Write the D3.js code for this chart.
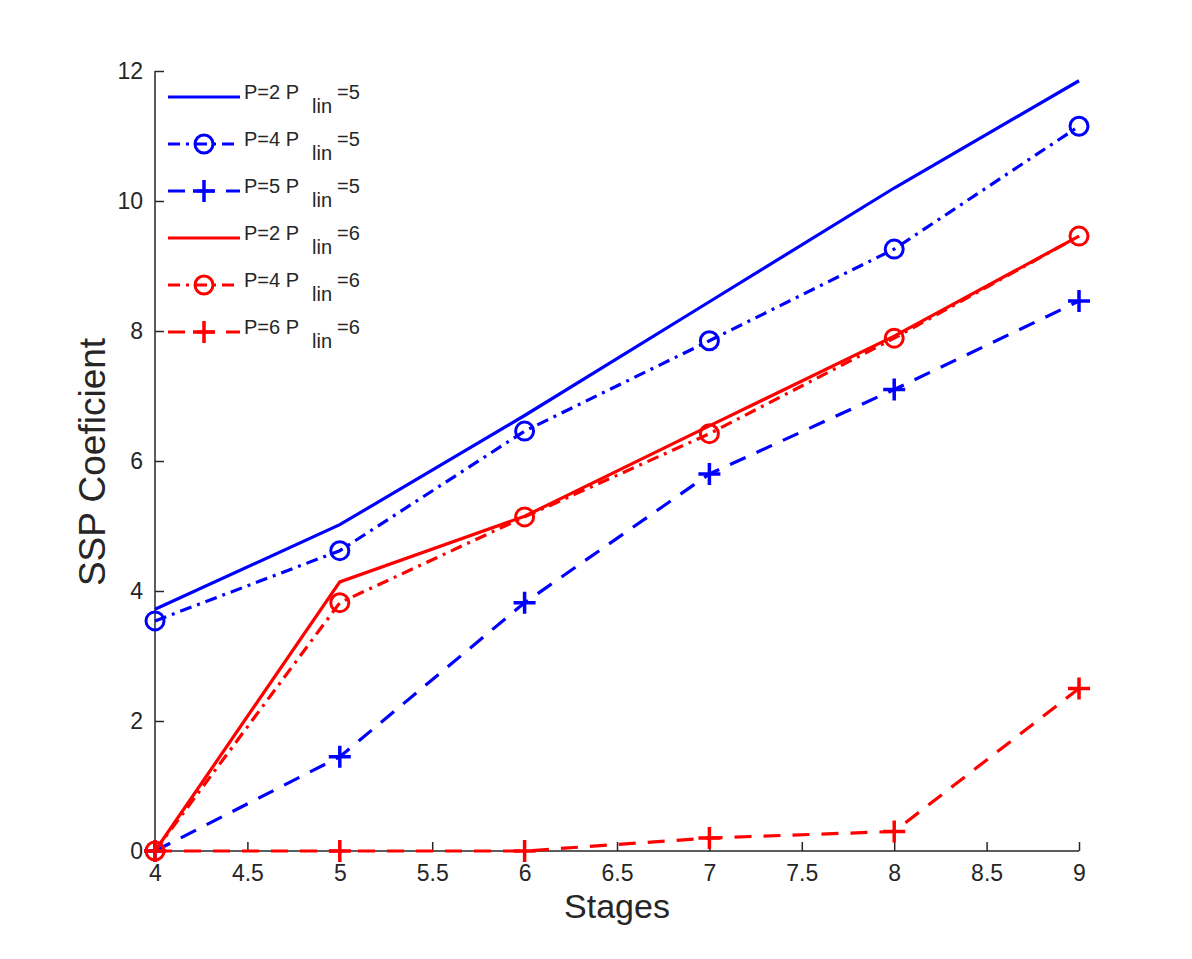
<!DOCTYPE html>
<html>
<head>
<meta charset="utf-8">
<script src="https://cdn.jsdelivr.net/npm/d3@7"></script>
<style>
  body { margin: 0; background: #fff; }
  text { font-family: "Liberation Sans", Arial, sans-serif; fill: #262626; }
</style>
</head>
<body>
<svg width="1192" height="959"></svg>
<script>
// stages on the x axis
const stages = [4, 5, 6, 7, 8, 9];

// SSP coefficient per series
const p2lin5 = [3.72, 5.02, 6.7, 8.45, 10.2, 11.85];
const p4lin5 = [3.54, 4.62, 6.46, 7.85, 9.26, 11.15];
const p5lin5 = [0, 1.45, 3.82, 5.8, 7.1, 8.46];
const p2lin6 = [0, 4.14, 5.15, 6.54, 7.92, 9.46];
const p4lin6 = [0, 3.82, 5.14, 6.42, 7.89, 9.46];
const p6lin6 = [0, 0, 0, 0.2, 0.3, 2.5];

const xTicks = [4, 4.5, 5, 5.5, 6, 6.5, 7, 7.5, 8, 8.5, 9];
const yTicks = [0, 2, 4, 6, 8, 10, 12];

const series = [
  { p: 2, lin: 5, values: p2lin5, color: "#0000ff", dash: null, marker: null },
  { p: 4, lin: 5, values: p4lin5, color: "#0000ff", dash: "12,6,3,6", marker: "o" },
  { p: 5, lin: 5, values: p5lin5, color: "#0000ff", dash: "17,12", marker: "+" },
  { p: 2, lin: 6, values: p2lin6, color: "#ff0000", dash: null, marker: null },
  { p: 4, lin: 6, values: p4lin6, color: "#ff0000", dash: "12,6,3,6", marker: "o" },
  { p: 6, lin: 6, values: p6lin6, color: "#ff0000", dash: "17,12", marker: "+" }
];

const svg = d3.select("svg");
const margin = { left: 155, right: 113, top: 71, bottom: 108 };
const W = 1192, H = 959;

const x = d3.scaleLinear().domain([4, 9]).range([margin.left, W - margin.right]);
const y = d3.scaleLinear().domain([0, 12]).range([H - margin.bottom, margin.top]);

// axes (inward ticks, no box)
const xAxis = svg.append("g")
  .attr("transform", `translate(0,${y(0)})`)
  .call(d3.axisBottom(x).tickValues(xTicks).tickSize(-9).tickPadding(14)
    .tickFormat(d3.format("")));
const yAxis = svg.append("g")
  .attr("transform", `translate(${x(4)},0)`)
  .call(d3.axisLeft(y).tickValues(yTicks).tickSize(-9).tickPadding(12));

[xAxis, yAxis].forEach(a => {
  a.attr("font-size", 23).attr("font-family", null);
  a.select(".domain").attr("stroke", "#262626").attr("stroke-width", 1.5);
  a.selectAll(".tick line").attr("stroke", "#262626").attr("stroke-width", 1.5);
  a.selectAll(".tick text").attr("fill", "#262626");
});
xAxis.select(".domain").attr("d", `M${x(4)},0H${x(9)}`);
yAxis.select(".domain").attr("d", `M0,${y(0)}V${y(12)}`);

svg.append("text")
  .attr("x", (x(4) + x(9)) / 2).attr("y", 918)
  .attr("text-anchor", "middle").attr("font-size", 34)
  .text("Stages");
svg.append("text")
  .attr("transform", `translate(105,${(y(0) + y(12)) / 2 + 1}) rotate(-90)`)
  .attr("text-anchor", "middle").attr("font-size", 37)
  .text("SSP Coeficient");

const line = d3.line().x((d, i) => x(stages[i])).y(d => y(d));

const drawMarker = (g, mk, cx, cy, color) => {
  if (mk === "o") {
    g.append("circle").attr("cx", cx).attr("cy", cy).attr("r", 9)
      .attr("fill", "none").attr("stroke", color).attr("stroke-width", 3);
  } else if (mk === "+") {
    g.append("path")
      .attr("d", `M${cx - 11},${cy}H${cx + 11}M${cx},${cy - 11}V${cy + 11}`)
      .attr("stroke", color).attr("stroke-width", 3.5);
  }
};

series.forEach(s => {
  const g = svg.append("g");
  g.append("path")
    .attr("d", line(s.values))
    .attr("fill", "none")
    .attr("stroke", s.color)
    .attr("stroke-width", 3.2)
    .attr("stroke-dasharray", s.dash);
  s.values.forEach((v, i) => drawMarker(g, s.marker, x(stages[i]), y(v), s.color));
});

// legend
const legend = svg.append("g");
series.forEach((s, i) => {
  const ly = 97 + i * 47;
  const row = legend.append("g");
  row.append("path")
    .attr("d", `M168,${ly}H240`)
    .attr("stroke", s.color).attr("stroke-width", 3.2)
    .attr("stroke-dasharray", s.dash);
  drawMarker(row, s.marker, 204, ly, s.color);
  const t = row.append("text").attr("y", ly + 2).attr("font-size", 20);
  t.append("tspan").attr("x", 244).text(`P=${s.p} P`);
  t.append("tspan").attr("x", 312).attr("dy", 14).text("lin");
  t.append("tspan").attr("x", 337).attr("dy", -14).text(`=${s.lin}`);
});
</script>
</body>
</html>
